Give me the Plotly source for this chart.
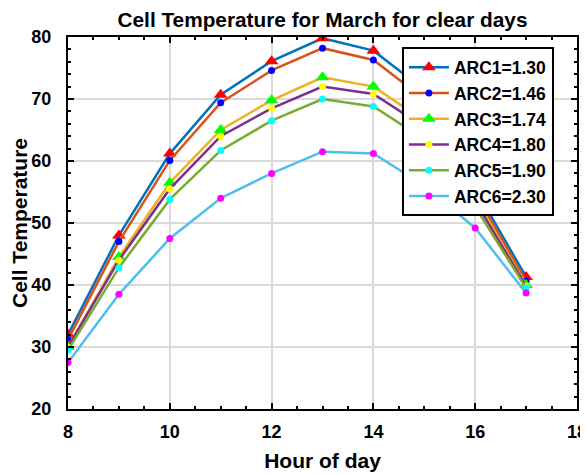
import plotly.graph_objects as go

hours = [8, 9, 10, 11, 12, 13, 14, 15, 16, 17]
arc1 = [32.0, 48.0, 61.2, 70.7, 76.1, 79.8, 77.8, 71.5, 55.5, 41.3]
arc2 = [31.2, 47.0, 60.1, 69.4, 74.6, 78.2, 76.3, 70.0, 54.8, 40.6]
arc3 = [30.0, 44.5, 56.5, 65.0, 69.8, 73.5, 72.0, 66.5, 54.0, 40.0]
arc4 = [30.0, 44.0, 55.5, 64.0, 68.5, 72.0, 70.8, 65.5, 53.5, 39.8]
arc5 = [29.5, 42.8, 53.8, 61.7, 66.5, 70.0, 68.8, 63.5, 52.6, 39.5]
arc6 = [27.5, 38.5, 47.5, 54.0, 58.0, 61.5, 61.2, 56.0, 49.2, 38.7]
names = ["ARC1=1.30", "ARC2=1.46", "ARC3=1.74", "ARC4=1.80", "ARC5=1.90", "ARC6=2.30"]
series = [arc1, arc2, arc3, arc4, arc5, arc6]
line_colors = ["#0072BD", "#D95319", "#EDB120", "#7E2F8E", "#77AC30", "#4DBEEE"]
marker_colors = ["#FF0000", "#0000FF", "#00FF00", "#FFFF00", "#00FFFF", "#FF00FF"]
marker_symbols = ["triangle-up", "circle", "triangle-up", "circle", "circle", "circle"]
marker_sizes = [12, 7, 12, 7, 7, 7]

font_family = "Liberation Sans, Arial, sans-serif"

# The page body keeps the browser's default 8px margin, so the figure is
# sized to the remaining area (588-8 x 475-8).
W, H = 580, 467

fig = go.Figure()
for name, ys, lc, mc, sym, ms in zip(names, series, line_colors, marker_colors, marker_symbols, marker_sizes):
    fig.add_trace(go.Scatter(
        x=hours, y=ys, name=name, mode="lines+markers",
        line=dict(color=lc, width=2.5),
        marker=dict(color=mc, symbol=sym, size=ms, line=dict(width=0)),
    ))

axis_common = dict(
    showline=True, linecolor="black", linewidth=2, mirror="allticks",
    ticks="inside", ticklen=6, tickwidth=1.5, tickcolor="black",
    showgrid=True, gridcolor="#DADADA", gridwidth=1.5,
    zeroline=False, automargin=False,
    tickfont=dict(family=font_family, size=18, color="black", weight="bold"),
)

fig.update_xaxes(
    range=[8, 18], dtick=2, tick0=8, ticklabelstandoff=5,
    minor=dict(dtick=0.5, ticks="inside", ticklen=3, tickcolor="black", showgrid=False),
    title=dict(text="Hour of day", font=dict(family=font_family, size=21, color="black", weight="bold"), standoff=13),
    **axis_common,
)
fig.update_yaxes(
    range=[20, 80], dtick=10, tick0=20, ticklabelstandoff=11,
    minor=dict(dtick=2, ticks="inside", ticklen=3, tickcolor="black", showgrid=False),
    title=dict(text="Cell Temperature", font=dict(family=font_family, size=21, color="black", weight="bold"), standoff=6),
    **axis_common,
)

fig.update_layout(
    width=W, height=H,
    margin=dict(l=60, r=11, t=29, b=66),
    paper_bgcolor="white", plot_bgcolor="white",
    title=dict(text="Cell Temperature for March for clear days", x=0.5, xanchor="center",
               xref="paper", y=1 - 11.5 / H, yanchor="middle",
               font=dict(family=font_family, size=20.8, color="black", weight="bold")),
    legend=dict(x=0.656, y=0.972, xanchor="left", yanchor="top",
                bgcolor="white", bordercolor="black", borderwidth=2,
                font=dict(family=font_family, size=17.5, color="black", weight="bold"),
                itemwidth=40, tracegroupgap=0),
    showlegend=True,
)

fig.write_html("out.html")
